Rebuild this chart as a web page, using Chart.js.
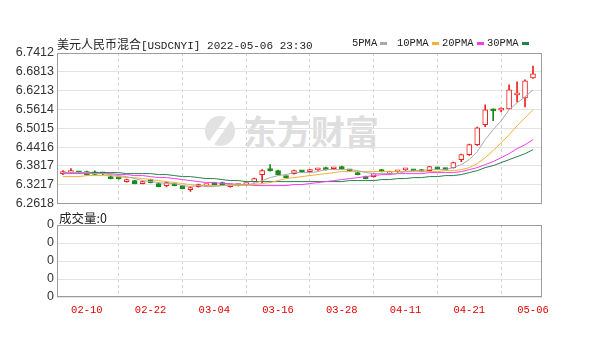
<!DOCTYPE html>
<html>
<head>
<meta charset="utf-8">
<script src="https://cdn.jsdelivr.net/npm/chart.js@4.4.0/dist/chart.umd.min.js"></script>
<style>
  body { margin: 0; background: #fff; }
  #wrap { position: relative; width: 600px; height: 350px; overflow: hidden; }
  canvas { position: absolute; left: 0; z-index: 1; }
  #main { top: 0; }
  #vol { top: 214px; }
  #title { position: absolute; left: 57px; top: 35px; line-height: 16px; color: #222; white-space: nowrap; z-index: 2; }
  #title .cn { font: 12px "Noto Sans CJK SC"; }
  #title .en { font: 11px "Liberation Mono"; }
  .lg { position: absolute; top: 37px; line-height: 14px; font: 10.5px "Liberation Mono"; color: #222; white-space: nowrap; z-index: 2; }
  .lg i { display: inline-block; width: 7px; height: 3px; margin-left: 3px; vertical-align: middle; }
  #volTitle { position: absolute; left: 59px; top: 208px; line-height: 16px; font: 12.5px "Noto Sans CJK SC"; color: #222; z-index: 2; }
  #wm { position: absolute; left: 205px; top: 106px; z-index: 0; color: #dedede; white-space: nowrap; }
  #wm .logo { display: inline-block; width: 30px; height: 30px; border-radius: 50%; background: #e2e2e2; vertical-align: middle; position: relative; margin-right: 8px; }
  #wm .logo:after { content: ""; position: absolute; left: 12px; top: -2px; width: 6px; height: 34px; background: #fff; transform: rotate(35deg); }
  #wm .txt { font: bold 34px "Noto Sans CJK SC"; vertical-align: middle; }
</style>
</head>
<body>
<div id="wrap">
  <div id="wm"><span class="logo"></span><span class="txt">东方财富</span></div>
  <canvas id="main" width="600" height="214"></canvas>
  <canvas id="vol" width="600" height="136"></canvas>
  <div id="title"><span class="cn">美元人民币混合</span><span class="en">[USDCNYI] 2022-05-06 23:30</span></div>
  <div id="volTitle">成交量:0</div>
</div>
<script>
// trading days shown
const dates = ['02-07','02-08','02-09','02-10','02-11','02-14','02-15','02-16','02-17','02-18',
  '02-21','02-22','02-23','02-24','02-25','02-28','03-01','03-02','03-03','03-04',
  '03-07','03-08','03-09','03-10','03-11','03-14','03-15','03-16','03-17','03-18',
  '03-21','03-22','03-23','03-24','03-25','03-28','03-29','03-30','03-31','04-01',
  '04-06','04-07','04-08','04-11','04-12','04-13','04-14','04-15','04-18','04-19',
  '04-20','04-21','04-22','04-25','04-26','04-27','04-28','04-29','05-05','05-06'];

const open = [6.3570,6.3602,6.3610,6.3634,6.3630,6.3575,6.3475,6.3420,6.3316,6.3348,
  6.3253,6.3380,6.3253,6.3189,6.3253,6.3189,6.3062,6.3158,6.3185,6.3253,
  6.3285,6.3158,6.3189,6.3221,6.3316,6.3539,6.3697,6.3666,6.3475,6.3570,
  6.3640,6.3634,6.3690,6.3761,6.3725,6.3793,6.3670,6.3602,6.3475,6.3475,
  6.3697,6.3570,6.3630,6.3690,6.3670,6.3697,6.3666,6.3735,6.3729,6.3761,
  6.4015,6.4174,6.4491,6.5126,6.5602,6.5590,6.5634,6.6078,6.5983,6.6618];
const high = [6.3666,6.3729,6.3634,6.3650,6.3660,6.3600,6.3500,6.3440,6.3395,6.3360,
  6.3330,6.3395,6.3265,6.3300,6.3265,6.3200,6.3140,6.3235,6.3210,6.3265,
  6.3300,6.3200,6.3230,6.3265,6.3425,6.3697,6.3856,6.3680,6.3490,6.3680,
  6.3670,6.3710,6.3730,6.3775,6.3760,6.3810,6.3700,6.3620,6.3490,6.3585,
  6.3710,6.3650,6.3660,6.3725,6.3700,6.3710,6.3800,6.3775,6.3745,6.3935,
  6.4190,6.4510,6.5050,6.5761,6.5634,6.5666,6.6396,6.6491,6.6555,6.6999];
const low = [6.3539,6.3570,6.3570,6.3520,6.3525,6.3540,6.3400,6.3390,6.3300,6.3240,
  6.3240,6.3270,6.3150,6.3150,6.3180,6.3085,6.2999,6.3140,6.3170,6.3210,
  6.3210,6.3140,6.3175,6.3205,6.3300,6.3285,6.3650,6.3525,6.3430,6.3555,
  6.3600,6.3620,6.3670,6.3680,6.3700,6.3715,6.3640,6.3525,6.3400,6.3460,
  6.3620,6.3555,6.3610,6.3670,6.3640,6.3620,6.3650,6.3700,6.3690,6.3745,
  6.3951,6.4150,6.4470,6.5062,6.5253,6.5539,6.5620,6.5856,6.5697,6.6600];
const close = [6.3602,6.3666,6.3595,6.3539,6.3545,6.3565,6.3412,6.3405,6.3380,6.3253,
  6.3316,6.3285,6.3158,6.3285,6.3189,6.3094,6.3126,6.3221,6.3195,6.3221,
  6.3221,6.3189,6.3221,6.3253,6.3412,6.3666,6.3666,6.3539,6.3443,6.3666,
  6.3630,6.3697,6.3700,6.3697,6.3732,6.3729,6.3660,6.3539,6.3412,6.3570,
  6.3634,6.3634,6.3638,6.3698,6.3662,6.3634,6.3793,6.3725,6.3697,6.3920,
  6.4174,6.4491,6.5031,6.5602,6.5570,6.5602,6.6237,6.6110,6.6523,6.6745];

// moving average lines
const ma5 = [6.3602,6.3602,6.3602,6.3602,6.3570,6.3570,6.3539,6.3507,6.3475,6.3412,
  6.3348,6.3316,6.3285,6.3253,6.3253,6.3189,6.3158,6.3189,6.3158,6.3158,
  6.3189,6.3221,6.3221,6.3221,6.3253,6.3348,6.3443,6.3507,6.3539,6.3602,
  6.3602,6.3602,6.3634,6.3697,6.3697,6.3697,6.3697,6.3666,6.3602,6.3570,
  6.3570,6.3570,6.3570,6.3634,6.3666,6.3666,6.3697,6.3697,6.3697,6.3761,
  6.3856,6.4015,6.4269,6.4650,6.4967,6.5253,6.5602,6.5824,6.6015,6.6237];
const ma10 = [6.3475,6.3475,6.3475,6.3507,6.3507,6.3507,6.3507,6.3475,6.3443,6.3443,
  6.3412,6.3380,6.3348,6.3316,6.3285,6.3253,6.3221,6.3189,6.3189,6.3189,
  6.3189,6.3189,6.3189,6.3189,6.3221,6.3253,6.3285,6.3348,6.3412,6.3443,
  6.3475,6.3507,6.3539,6.3570,6.3602,6.3634,6.3634,6.3634,6.3634,6.3634,
  6.3634,6.3634,6.3634,6.3634,6.3634,6.3634,6.3634,6.3634,6.3666,6.3666,
  6.3697,6.3761,6.3888,6.4078,6.4301,6.4555,6.4808,6.5094,6.5348,6.5602];
const ma20 = [6.3570,6.3570,6.3570,6.3570,6.3570,6.3570,6.3570,6.3539,6.3539,6.3507,
  6.3507,6.3475,6.3443,6.3443,6.3412,6.3380,6.3348,6.3316,6.3285,6.3285,
  6.3253,6.3253,6.3221,6.3221,6.3189,6.3189,6.3189,6.3189,6.3189,6.3221,
  6.3221,6.3253,6.3285,6.3316,6.3348,6.3380,6.3412,6.3443,6.3475,6.3507,
  6.3539,6.3539,6.3570,6.3570,6.3570,6.3570,6.3602,6.3602,6.3602,6.3602,
  6.3634,6.3697,6.3761,6.3856,6.3951,6.4078,6.4205,6.4364,6.4491,6.4650];
const ma30 = [6.3602,6.3602,6.3602,6.3602,6.3602,6.3602,6.3602,6.3602,6.3570,6.3570,
  6.3570,6.3570,6.3539,6.3539,6.3507,6.3475,6.3475,6.3443,6.3412,6.3412,
  6.3380,6.3348,6.3348,6.3316,6.3316,6.3316,6.3316,6.3316,6.3316,6.3316,
  6.3316,6.3316,6.3316,6.3316,6.3316,6.3316,6.3348,6.3348,6.3348,6.3348,
  6.3380,6.3380,6.3412,6.3412,6.3443,6.3443,6.3475,6.3475,6.3507,6.3507,
  6.3539,6.3602,6.3666,6.3761,6.3824,6.3920,6.4015,6.4110,6.4205,6.4332];

const volume = [0,0,0,0,0,0,0,0,0,0, 0,0,0,0,0,0,0,0,0,0, 0,0,0,0,0,0,0,0,0,0,
  0,0,0,0,0,0,0,0,0,0, 0,0,0,0,0,0,0,0,0,0, 0,0,0,0,0,0,0,0,0,0];

const maNames = ['5PMA', '10PMA', '20PMA', '30PMA'];
const xTickLabels = ['02-10','02-22','03-04','03-16','03-28','04-11','04-21','05-06'];
const yTickValues = [6.2618, 6.3217, 6.3817, 6.4416, 6.5015, 6.5614, 6.6213, 6.6813, 6.7412];
const volTickValues = [0, 1, 2, 3, 4];
const volTickLabels = ['0', '0', '0', '0', '0'];

// styles
const maColors = ['#a9a9a9', '#f2b035', '#f23cf2', '#23824a'];
const legendLeft = [352, 397, 442, 487];
const upColor = '#f01e1e', downColor = '#1a8a1a';

maNames.forEach((n, k) => {
  const d = document.createElement('div');
  d.className = 'lg';
  d.style.left = legendLeft[k] + 'px';
  d.innerHTML = n + '<i style="background:' + maColors[k] + '"></i>';
  document.getElementById('wrap').appendChild(d);
});

const xTickPos = xTickLabels.map(l => dates.indexOf(l));
const isUp = close.map((c, i) => c >= open[i]);

const frame = {
  id: 'frame',
  beforeDatasetsDraw(chart) {
    const a = chart.chartArea, c = chart.ctx;
    c.save();
    c.strokeStyle = '#9c9c9c';
    c.lineWidth = 1;
    c.strokeRect(Math.round(a.left) + 0.5, Math.round(a.top) + 0.5,
      Math.round(a.right - a.left) - 1, Math.round(a.bottom - a.top) - 1);
    c.restore();
  }
};

function xScale(showLabels) {
  return {
    type: 'linear',
    min: -0.75,
    max: dates.length + 0.13,
    offset: false,
    afterBuildTicks: s => { s.ticks = xTickPos.map(v => ({ value: v })); },
    afterFit: s => { s.height = showLabels ? 53 : 10; },
    grid: { color: '#d2d2d2', drawTicks: false },
    border: { display: false, dash: [3, 3] },
    ticks: {
      display: showLabels, autoSkip: false, maxRotation: 0, padding: 7,
      color: '#e00000', font: { family: 'Liberation Mono', size: 10.5 },
      callback: v => dates[v]
    }
  };
}

Chart.defaults.animation = false;

new Chart(document.getElementById('main'), {
  type: 'bar',
  data: {
    datasets: [
      ...[ma5, ma10, ma20, ma30].map((arr, k) => ({
        type: 'line',
        label: maNames[k],
        data: arr.map((v, i) => ({ x: i, y: v })),
        borderColor: maColors[k],
        borderWidth: 1,
        pointRadius: 0,
        fill: false,
        order: 0
      })),
      {
        label: 'body',
        data: dates.map((d, i) => ({ x: i, y: [open[i], close[i]] })),
        grouped: false,
        barThickness: 5,
        minBarLength: 2,
        backgroundColor: isUp.map(u => u ? '#ffffff' : downColor),
        borderColor: isUp.map(u => u ? upColor : downColor),
        borderWidth: 1,
        borderSkipped: false,
        order: 1
      },
      {
        label: 'wick',
        data: dates.map((d, i) => ({ x: i, y: [low[i], high[i]] })),
        grouped: false,
        barThickness: 1,
        backgroundColor: isUp.map(u => u ? upColor : downColor),
        order: 2
      }
    ]
  },
  options: {
    responsive: false,
    devicePixelRatio: 1,
    layout: { padding: { top: 53, right: 58, bottom: 0, left: 0 } },
    plugins: { legend: { display: false }, tooltip: { enabled: false } },
    scales: {
      x: xScale(false),
      y: {
        min: yTickValues[0],
        max: yTickValues[yTickValues.length - 1],
        afterBuildTicks: s => { s.ticks = yTickValues.map(v => ({ value: v })); },
        afterFit: s => { s.width = 57; },
        grid: { color: '#e3e3e3', drawTicks: false },
        border: { display: false },
        ticks: {
          padding: 3, color: '#333',
          font: { family: 'Liberation Sans', size: 12.5 },
          callback: v => v.toFixed(4)
        }
      }
    }
  },
  plugins: [frame]
});

new Chart(document.getElementById('vol'), {
  type: 'bar',
  data: {
    datasets: [{
      label: '成交量',
      data: volume.map((v, i) => ({ x: i, y: v })),
      barThickness: 5,
      backgroundColor: '#999'
    }]
  },
  options: {
    responsive: false,
    devicePixelRatio: 1,
    layout: { padding: { top: 11, right: 58, bottom: 0, left: 0 } },
    plugins: { legend: { display: false }, tooltip: { enabled: false } },
    scales: {
      x: xScale(true),
      y: {
        min: volTickValues[0],
        max: volTickValues[volTickValues.length - 1],
        afterBuildTicks: s => { s.ticks = volTickValues.map(v => ({ value: v })); },
        afterFit: s => { s.width = 57; },
        grid: { color: '#e3e3e3', drawTicks: false },
        border: { display: false },
        ticks: {
          padding: 3, color: '#333',
          font: { family: 'Liberation Sans', size: 12.5 },
          callback: (v, i) => volTickLabels[i]
        }
      }
    }
  },
  plugins: [frame]
});
</script>
</body>
</html>
